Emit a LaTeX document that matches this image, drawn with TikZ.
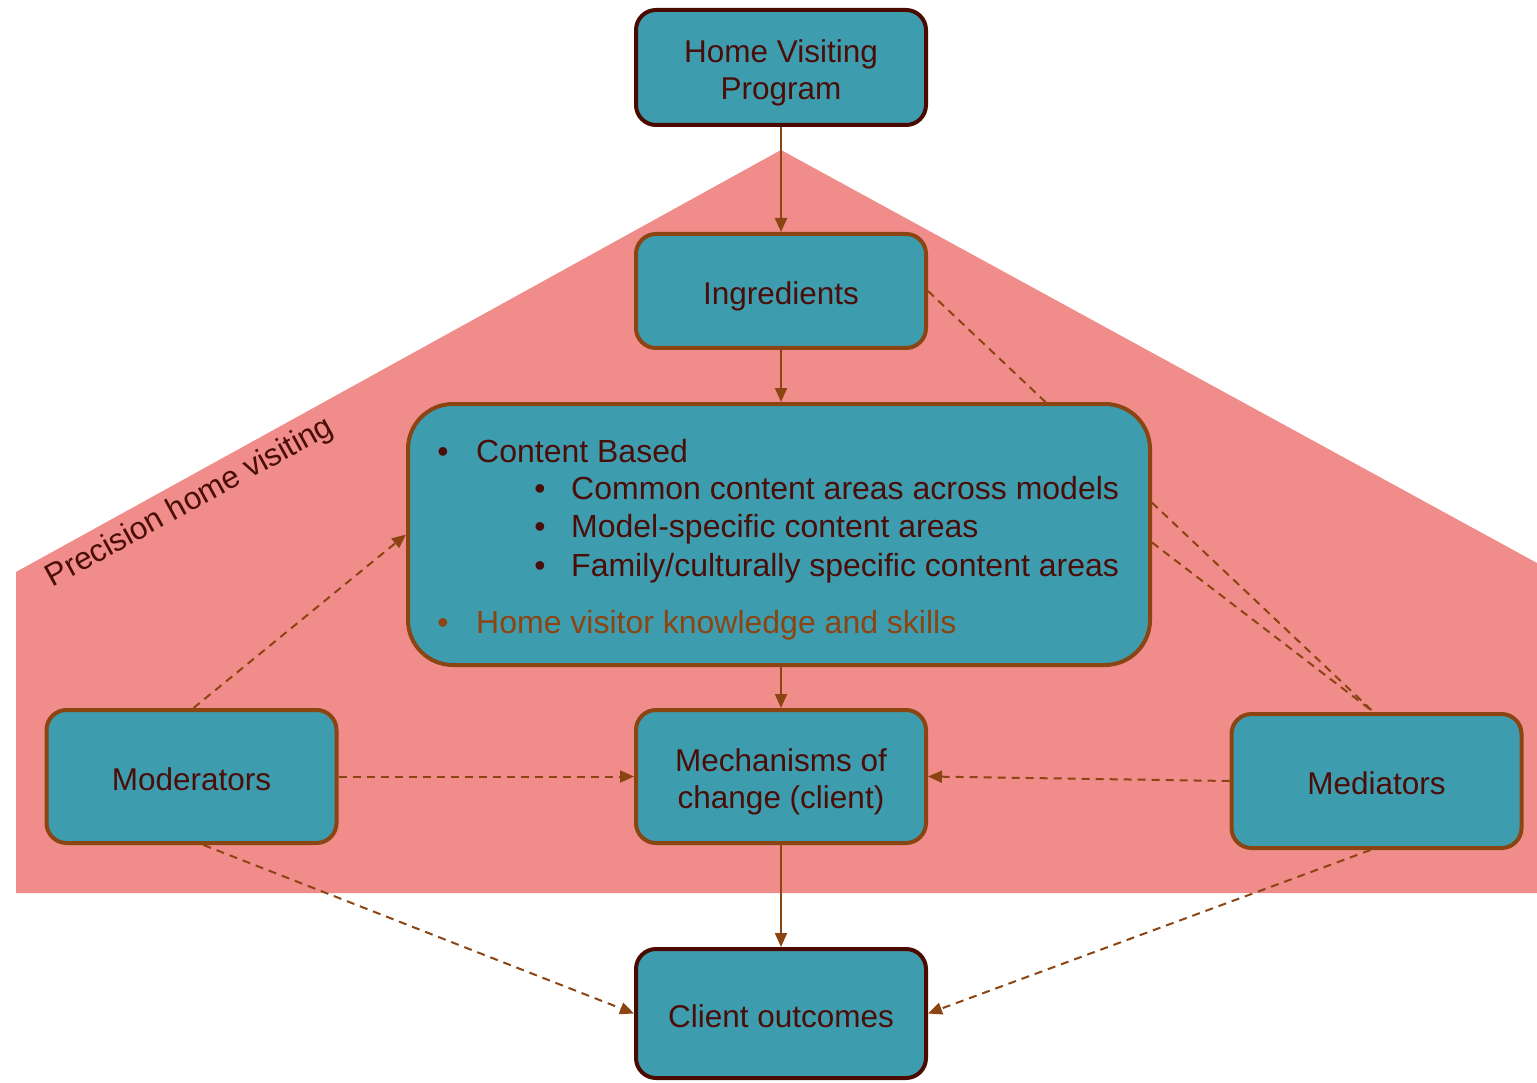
\documentclass[tikz,border=0pt]{standalone}
\usepackage{fontspec}
\setmainfont{Liberation Sans}
\usetikzlibrary{arrows.meta}
\pgfdeclarelayer{zone}
\pgfdeclarelayer{under}
\pgfsetlayers{zone,under,main}

\definecolor{pinkzone}{RGB}{240,140,137}
\definecolor{boxfill}{RGB}{62,156,175}
\definecolor{edgebrown}{RGB}{139,69,19}
\definecolor{darkedge}{RGB}{74,10,0}
\definecolor{inkmaroon}{RGB}{74,14,8}

% box text, set a little below the optical centre of its box
\newcommand{\boxtext}[1]{\raisebox{-6.5pt}[\height][\depth]{\begin{tabular}{@{}c@{}}#1\end{tabular}}}

\tikzset{
  box/.style={draw=edgebrown, line width=4pt, fill=boxfill, rounded corners=20pt,
    minimum width=290pt, minimum height=114pt, align=center, text=inkmaroon,
    font=\fontsize{31.5}{37}\selectfont, inner sep=0pt},
  keybox/.style={box, draw=darkedge},
  txt/.style={anchor=base west, inner sep=0pt, text=inkmaroon, font=\fontsize{32}{37}\selectfont},
  dot/.style={anchor=base, inner sep=0pt, text=inkmaroon, font=\fontsize{32}{37}\selectfont},
  flow/.style={draw=edgebrown, line width=2pt, -{Triangle[length=14pt,width=12pt]}},
  link/.style={draw=edgebrown, line width=2pt, dash pattern=on 8pt off 6pt},
  dlink/.style={link, -{Triangle[length=14pt,width=12pt]}}
}

\begin{document}
\begin{tikzpicture}[x=1pt,y=-1pt]
  \useasboundingbox (0,0) rectangle (1537,1083);

  % shaded region of the precision approach
  \begin{pgfonlayer}{zone}
    \fill[pinkzone] (781,150) -- (16,572) -- (16,893) -- (1537,893) -- (1537,563) -- cycle;
  \end{pgfonlayer}
  \node[rotate=28.8, text=inkmaroon, font=\fontsize{31.5}{37}\selectfont, inner sep=0pt] (zonelabel)
    at (190,503) {Precision home visiting};

  % boxes
  \node[keybox, minimum height=115pt] (hvp) at (781,67.5) {\boxtext{Home Visiting\\Program}};
  \node[box] (ing) at (781,291) {\boxtext{Ingredients}};
  \node[box, minimum width=742pt, minimum height=261pt, rounded corners=45pt] (cont) at (779,534.5) {};
  \node[box, minimum height=133pt] (mod) at (191.5,776.5) {\boxtext{Moderators}};
  \node[box, minimum height=133pt] (mech) at (781,776.5) {\boxtext{Mechanisms of\\change (client)}};
  \node[box, minimum height=134pt] (med) at (1376.5,781) {\boxtext{Mediators}};
  \node[keybox, minimum height=129pt] (out) at (781,1013.5) {\boxtext{Client outcomes}};

  % contents of the central box
  \node[dot] (b1) at (443,462) {•};
  \node[txt] (t1) at (476,462) {Content Based};
  \node[dot] (b2) at (540,499) {•};
  \node[txt] (t2) at (571,499) {Common content areas across models};
  \node[dot] (b3) at (540,537) {•};
  \node[txt] (t3) at (571,537) {Model-specific content areas};
  \node[dot] (b4) at (540,576) {•};
  \node[txt] (t4) at (571,576) {Family/culturally specific content areas};
  \node[dot, text=edgebrown] (b5) at (443,633) {•};
  \node[txt, text=edgebrown] (t5) at (476,633) {Home visitor knowledge and skills};

  % main causal chain
  \draw[flow] (hvp.south) -- (ing.north);
  \draw[flow] (ing.south) -- (cont.north -| ing.south);
  \draw[flow] (cont.south -| mech.north) -- (mech.north);
  \draw[flow] (mech.south) -- (out.north);

  % moderating and mediating paths
  \draw[dlink] (mod.east) -- (mech.west);
  \draw[dlink] (med.west) -- (mech.east);
  \draw[dlink] ([xshift=2pt]mod.north) -- (cont.west);
  \draw[dlink] ([xshift=12pt]mod.south) -- (out.west);
  \draw[dlink] ([xshift=-6pt]med.south) -- (out.east);
  \begin{pgfonlayer}{under}
    \draw[link] (ing.east) -- ([xshift=-3pt]med.north);
  \end{pgfonlayer}
  \draw[link] ([yshift=-8pt]cont.east) -- ([xshift=-3pt]med.north);
\end{tikzpicture}
\end{document}
